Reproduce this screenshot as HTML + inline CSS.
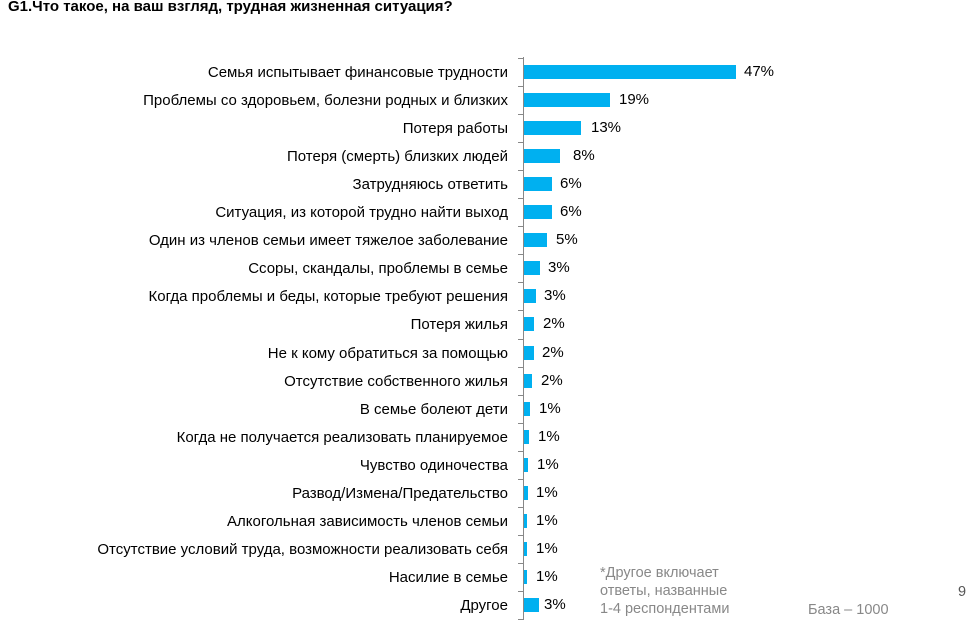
<!DOCTYPE html>
<html><head><meta charset="utf-8"><style>
body{margin:0;background:#fff;width:980px;height:626px;position:relative;overflow:hidden;font-family:"Liberation Sans",sans-serif}
.t{position:absolute;left:8px;top:-2px;font-weight:bold;font-size:15px;color:#000}
.l{position:absolute;right:472px;font-size:15px;color:#000;white-space:nowrap;line-height:16px}
.b{position:absolute;left:524px;height:14px;background:#00b0f0}
.p{position:absolute;font-size:15px;color:#000;line-height:16px}
.ax{position:absolute;left:523px;top:57px;width:1px;height:563px;background:#888}
.tk{position:absolute;left:518px;width:5px;height:1px;background:#888}
.g{position:absolute;color:#888;font-size:14.5px;line-height:18px}
</style></head><body>
<div class="t">G1.Что такое, на ваш взгляд, трудная жизненная ситуация?</div>
<div class="ax"></div>
<div id="c"></div>
<div class="g" style="left:600px;top:564px">*Другое включает<br>ответы, названные<br>1-4 респондентами</div>
<div class="g" style="left:808px;top:601px">База – 1000</div>
<div class="g" style="left:958px;top:583px;color:#555">9</div>
<script>
var d=[["Семья испытывает финансовые трудности",212,"47%",744],
["Проблемы со здоровьем, болезни родных и близких",86,"19%",619],
["Потеря работы",57,"13%",591],
["Потеря (смерть)  близких людей",36,"8%",573],
["Затрудняюсь ответить",28,"6%",560],
["Ситуация, из которой трудно найти выход",28,"6%",560],
["Один из членов семьи имеет тяжелое заболевание",23,"5%",556],
["Ссоры, скандалы, проблемы в семье",16,"3%",548],
["Когда  проблемы и беды, которые требуют решения",12,"3%",544],
["Потеря жилья",10,"2%",543],
["Не к кому обратиться за помощью",10,"2%",542],
["Отсутствие собственного жилья",8,"2%",541],
["В семье болеют дети",6,"1%",539],
["Когда не получается реализовать планируемое",5,"1%",538],
["Чувство одиночества",4,"1%",537],
["Развод/Измена/Предательство",4,"1%",536],
["Алкогольная зависимость членов семьи",3,"1%",536],
["Отсутствие условий труда, возможности реализовать себя",3,"1%",536],
["Насилие в семье",3,"1%",536],
["Другое",15,"3%",544]];
var h="";
for(var i=0;i<d.length;i++){var y=72+i*28.05;
h+='<div class="l" style="top:'+(y-7)+'px">'+d[i][0]+'</div>';
h+='<div class="b" style="top:'+(y-7)+'px;width:'+d[i][1]+'px"></div>';
h+='<div class="p" style="top:'+(y-8)+'px;left:'+d[i][3]+'px">'+d[i][2]+'</div>';
h+='<div class="tk" style="top:'+Math.round(y-14)+'px"></div>';}
h+='<div class="tk" style="top:'+Math.round(72+20*28.05-14)+'px"></div>';
document.getElementById("c").innerHTML=h;
</script>
</body></html>
